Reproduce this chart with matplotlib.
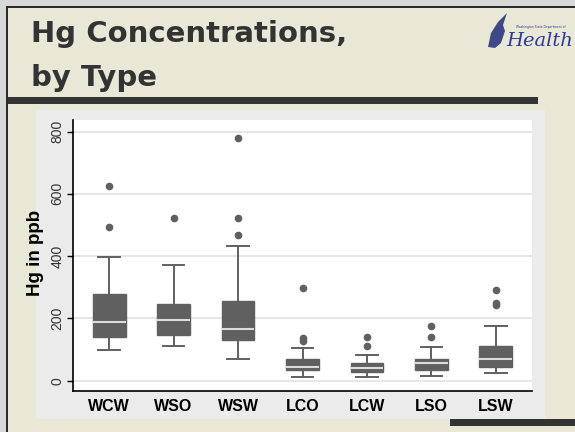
import matplotlib
matplotlib.use('Agg')
import matplotlib.pyplot as plt
from matplotlib.patches import Rectangle, Polygon

# Hg (ppb) box plot stats
types = ['WCW', 'WSO', 'WSW', 'LCO', 'LCW', 'LSO', 'LSW']
whis_lo = [98, 111, 70, 12, 12, 15, 24]
q1 = [141, 147, 131, 33, 28, 33, 44]
median = [187, 194, 165, 43, 42, 57, 70]
q3 = [280, 246, 257, 70, 56, 70, 111]
whis_hi = [397, 372, 431, 104, 82, 108, 175]
outliers = [[624, 493], [521], [779, 521, 467], [299, 138, 127],
            [140, 113], [175, 141], [290, 250, 243]]
yticks = [0, 200, 400, 600, 800]

W, H = 575, 432
fig = plt.figure(figsize=(W / 100, H / 100), dpi=100)
fig.patch.set_facecolor('#e9e7d5')

def px(x, y, w, h):
    # pixel box (top-left origin) -> figure fraction
    return (x / W, 1 - (y + h) / H, w / W, h / H)

def rect(x, y, w, h, color, z=0):
    l, b, ww, hh = px(x, y, w, h)
    fig.patches.append(Rectangle((l, b), ww, hh, transform=fig.transFigure,
                                 facecolor=color, edgecolor='none', zorder=z))

# slide frame
rect(0, 0, W, 6, '#d8d8d8')
rect(0, 0, 6, H, '#d8d8d8')
rect(6, 6, W - 6, 2, '#2b2b2b')
rect(6, 6, 2, H - 6, '#2b2b2b')
# bars
rect(8, 97, 530, 7, '#333333')
rect(450, 419, 125, 7, '#333333')
# graph region
rect(36, 110, 509, 309, '#ebebeb')

# title
for txt, base in [('Hg Concentrations,', 42), ('by Type', 86)]:
    fig.text(31 / W, 1 - base / H, txt, fontsize=21, fontweight='bold',
             color='#333333', family='DejaVu Sans', va='baseline')

# logo
feather = [(488, 47), (491, 33), (498, 22), (507, 13), (503, 25), (505, 31),
           (501, 43), (495, 48)]
fig.patches.append(Polygon([(x / W, 1 - y / H) for x, y in feather],
                           transform=fig.transFigure, facecolor='#2e3880',
                           edgecolor='none', alpha=0.9))
fig.text(541 / W, 1 - 27 / H, 'Washington State Department of', fontsize=2.2,
         color='#2b3a9c', ha='center', va='center')
fig.text(540 / W, 1 - 41 / H, 'Health', fontsize=14, style='italic',
         family='DejaVu Serif', color='#2b3a9c', ha='center', va='center')

ax = fig.add_axes(px(73, 120, 459, 271))
ax.set_zorder(5)
ax.set_facecolor('white')

stats = []
for i, name in enumerate(types):
    stats.append(dict(label=name, whislo=whis_lo[i], q1=q1[i], med=median[i],
                      q3=q3[i], whishi=whis_hi[i], fliers=outliers[i]))

box_col = '#606060'
ax.bxp(stats, positions=range(1, len(types) + 1), widths=0.51,
       capwidths=0.33, patch_artist=True,
       boxprops=dict(facecolor=box_col, edgecolor=box_col, linewidth=1),
       medianprops=dict(color='#dcdcdc', linewidth=1.5),
       whiskerprops=dict(color=box_col, linewidth=1.4),
       capprops=dict(color=box_col, linewidth=1.4),
       flierprops=dict(marker='o', markersize=4.5, markerfacecolor=box_col,
                       markeredgecolor=box_col))

ax.set_xlim(0.44, 7.56)
ax.set_ylim(-33, 837)
ax.set_yticks(yticks)
ax.set_yticklabels([str(v) for v in yticks], rotation=90, va='center',
                   family='Liberation Sans', fontsize=10, color='#333333')
ax.set_xticks(range(1, len(types) + 1))
ax.set_xticklabels(types, fontweight='bold', family='Liberation Sans', fontsize=11.5)
ax.tick_params(axis='x', length=0, pad=6)
ax.tick_params(axis='y', length=4, pad=2, width=1)
ax.grid(axis='y', color='#e6e6e6', linewidth=1.5)
ax.set_axisbelow(True)
for s in ['top', 'right']:
    ax.spines[s].set_visible(False)
for s in ['left', 'bottom']:
    ax.spines[s].set_linewidth(1.2)

fig.text(35 / W, 1 - 253 / H, 'Hg in ppb', rotation=90, ha='center', va='center',
         fontweight='bold', family='Liberation Sans', fontsize=13.5, zorder=6)

fig.savefig('out.png', dpi=100, facecolor=fig.get_facecolor())
